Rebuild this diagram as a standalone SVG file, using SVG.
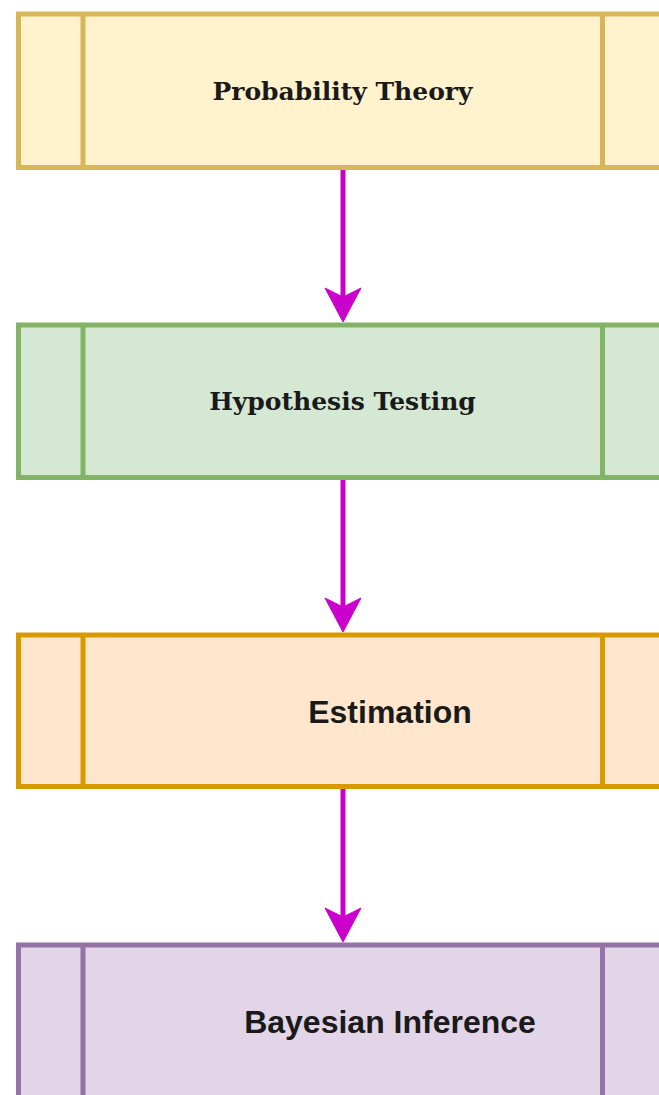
<svg xmlns="http://www.w3.org/2000/svg" width="659" height="1095" viewBox="0 0 659 1095">
<defs>
<style>
.box{stroke-width:5}
.serif{font-family:"DejaVu Serif","Liberation Serif",serif;font-weight:bold;font-size:25px;fill:#1a1a1a;text-anchor:middle}
.sans{font-family:"Liberation Sans",Arial,sans-serif;font-weight:bold;font-size:32px;fill:#1a1a1a;text-anchor:middle}
.conn{stroke:#CC00CC;stroke-width:5;fill:none}
.head{fill:#CC00CC;stroke:#CC00CC;stroke-width:1;stroke-linejoin:miter}
</style>
</defs>
<rect width="659" height="1095" fill="#ffffff"/>
<g id="node-probability">
<rect class="box" x="18.5" y="14" width="648" height="153.5" fill="#FFF2CC" stroke="#D6B656"/>
<line class="box" x1="83" y1="14" x2="83" y2="167.5" stroke="#D6B656"/>
<line class="box" x1="602.5" y1="14" x2="602.5" y2="167.5" stroke="#D6B656"/>
<text class="serif" x="342.5" y="100">Probability Theory</text>
</g>
<g id="node-hypothesis">
<rect class="box" x="18.5" y="325" width="648" height="152.5" fill="#D5E8D4" stroke="#82B366"/>
<line class="box" x1="83" y1="325" x2="83" y2="477.5" stroke="#82B366"/>
<line class="box" x1="602.5" y1="325" x2="602.5" y2="477.5" stroke="#82B366"/>
<text class="serif" x="342.5" y="410">Hypothesis Testing</text>
</g>
<g id="node-estimation">
<rect class="box" x="18.5" y="635" width="648" height="151.5" fill="#FFE6CC" stroke="#D79B00"/>
<line class="box" x1="83" y1="635" x2="83" y2="786.5" stroke="#D79B00"/>
<line class="box" x1="602.5" y1="635" x2="602.5" y2="786.5" stroke="#D79B00"/>
<text class="sans" x="390" y="723">Estimation</text>
</g>
<g id="node-bayesian">
<rect class="box" x="18.5" y="945" width="648" height="160" fill="#E1D5E7" stroke="#9673A6"/>
<line class="box" x1="83" y1="945" x2="83" y2="1105" stroke="#9673A6"/>
<line class="box" x1="602.5" y1="945" x2="602.5" y2="1105" stroke="#9673A6"/>
<text class="sans" x="390" y="1033">Bayesian Inference</text>
</g>
<g id="connectors">
<line class="conn" x1="343" y1="170" x2="343" y2="298"/>
<polygon class="head" points="343,322 325,288 343,297 361,288"/>
<line class="conn" x1="343" y1="480" x2="343" y2="608"/>
<polygon class="head" points="343,632 325,598 343,607 361,598"/>
<line class="conn" x1="343" y1="789" x2="343" y2="918"/>
<polygon class="head" points="343,942 325,908 343,917 361,908"/>
</g>
</svg>
